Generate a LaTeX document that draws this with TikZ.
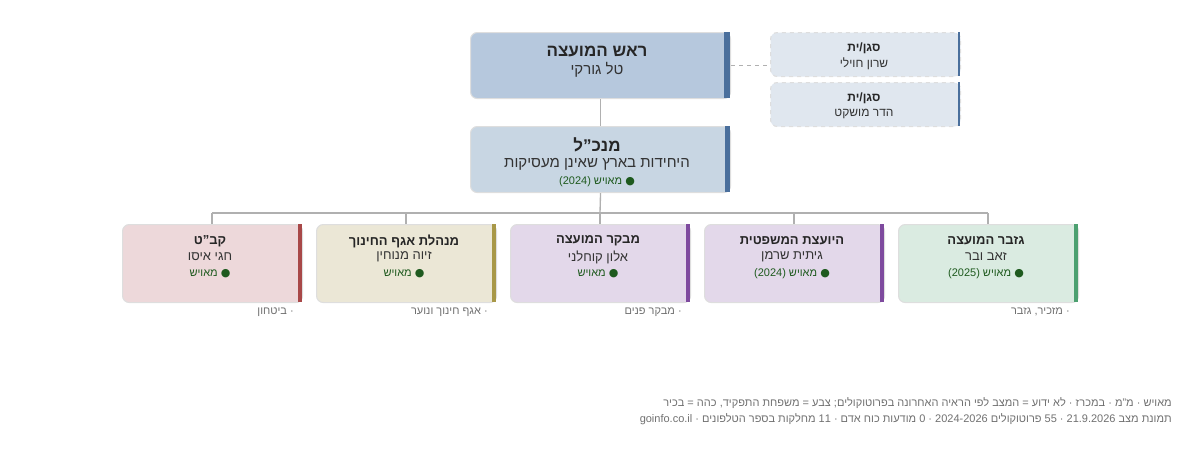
\documentclass[tikz,border=0pt]{standalone}
\usepackage{fontspec}
\setmainfont[Script=Hebrew]{Liberation Sans}
\newfontfamily\dv{DejaVu Sans}
\TeXXeTstate=1
\newcommand{\RR}[1]{\beginR #1\endR}
\newcommand{\LL}[1]{\beginL #1\endL}
\newcommand{\qq}{\symbol{"22}}
\definecolor{gline}{HTML}{B0B0B0}
\definecolor{stat}{HTML}{1E5A1E}
\definecolor{ftxt}{HTML}{707070}
\definecolor{headf}{HTML}{B6C8DD}
\definecolor{mgrf}{HTML}{C8D6E3}
\definecolor{depf}{HTML}{E0E7EF}
\definecolor{blbar}{HTML}{4A6F9C}
\begin{document}
\begin{tikzpicture}[x=0.75pt,y=-0.75pt,
  box/.style={rounded corners=5pt,draw=black!13,line width=0.8pt},
  ttl/.style={font=\fontsize{9.75}{11}\selectfont\bfseries,text=black!85,inner sep=0},
  nm/.style={font=\fontsize{9.75}{11}\selectfont,text=black!80,inner sep=0},
  st/.style={font=\fontsize{8.25}{10}\selectfont,text=stat,inner sep=0},
  lbl/.style={font=\fontsize{8.25}{10}\selectfont,text=ftxt,inner sep=0,anchor=east},
  conn/.style={draw=gline,line width=1pt}]
\useasboundingbox (0,0) rectangle (1200,454);
% head
\node[box,fill=headf,minimum width=260*0.75pt,minimum height=66*0.75pt,anchor=north west] (head) at (470,32) {};
\fill[blbar] (724,32) rectangle (730,98);
\node[ttl,font=\fontsize{12.75}{14}\selectfont\bfseries] (headt) at (597,52) {\RR{ראש המועצה}};
\node[nm,font=\fontsize{11.25}{13}\selectfont] (headn) at (597,70) {\RR{טל גורקי}};
% deputies
\node[box,dashed,fill=depf,minimum width=190*0.75pt,minimum height=44*0.75pt,anchor=north west] (dep1) at (770,32) {};
\fill[blbar] (958,32) rectangle (960,76);
\node[ttl,font=\fontsize{9}{11}\selectfont\bfseries] (d1t) at (864,48) {\RR{סגן/ית}};
\node[nm,font=\fontsize{9}{11}\selectfont] (d1n) at (864,64) {\RR{שרון חוילי}};
\node[box,dashed,fill=depf,minimum width=190*0.75pt,minimum height=44*0.75pt,anchor=north west] (dep2) at (770,82) {};
\fill[blbar] (958,82) rectangle (960,126);
\node[ttl,font=\fontsize{9}{11}\selectfont\bfseries] (d2t) at (864,98) {\RR{סגן/ית}};
\node[nm,font=\fontsize{9}{11}\selectfont] (d2n) at (864,114) {\RR{הדר מושקט}};
\draw[draw=gline,dashed,line width=1pt] (head.east) -- (head.east -| dep1.west);
% manager
\node[box,fill=mgrf,minimum width=260*0.75pt,minimum height=66*0.75pt,anchor=north west] (mgr) at (470,126) {};
\fill[blbar] (725,126) rectangle (730,192);
\node[ttl,font=\fontsize{12.75}{14}\selectfont\bfseries] (mgrt) at (597,145) {\RR{מנכ\qq ל}};
\node[nm,font=\fontsize{11.25}{13}\selectfont] (mgrn) at (597,164) {\RR{היחידות בארץ שאינן מעסיקות}};
\node[st] (mgrs) at (597,182) {(2024) \RR{מאויש} {\dv●}};
\draw[conn] (head.south) -- (mgr.north);
\coordinate (bus) at (600,213);
\draw[conn] (mgr.south) -- (bus);
\draw[conn] (212,213) -- (988,213);
% children
\foreach \n/\x/\fc/\bc/\t/\nmv/\s/\l in {
 c1/122/EDD8DA/A84848/{קב\qq ט}/{חגי איסו}/{\RR{מאויש} {\dv●}}/{· ביטחון},
 c2/316/EBE7D6/A89848/{מנהלת אגף החינוך}/{זיוה מנוחין}/{\RR{מאויש} {\dv●}}/{· אגף חינוך ונוער},
 c3/510/E3D8EA/7E4A9E/{מבקר המועצה}/{אלון קוחלני}/{\RR{מאויש} {\dv●}}/{· מבקר פנים},
 c4/704/E3D8EA/7E4A9E/{היועצת המשפטית}/{גיתית שרמן}/{(2024) \RR{מאויש} {\dv●}}/{},
 c5/898/DAEBE1/4CA070/{גזבר המועצה}/{זאב ובר}/{(2025) \RR{מאויש} {\dv●}}/{· מזכיר, גזבר}} {
  \definecolor{fc}{HTML}{\fc}\definecolor{bc}{HTML}{\bc}
  \node[box,fill=fc,minimum width=180*0.75pt,minimum height=78*0.75pt,anchor=north west] (\n) at (\x,224) {};
  \fill[bc] (\x+176,224) rectangle (\x+180,302);
  \node[ttl] (\n t) at (\x+88,241) {\RR{\t}};
  \node[nm] (\n n) at (\x+88,257) {\RR{\nmv}};
  \node[st] (\n s) at (\x+88,274) {\s};
  \node[lbl] (\n l) at (\x+172,312) {\RR{\l}};
  \draw[conn] (\x+90,213) -- (\x+90,224);
}
% footer
\node[lbl,anchor=east] (f1) at (1172,403) {\RR{מאויש · מ\qq מ · במכרז · לא ידוע = המצב לפי הראיה האחרונה בפרוטוקולים; צבע = משפחת התפקיד, כהה = בכיר}};
\node[lbl,anchor=east] (f2) at (1172,419) {\RR{תמונת מצב \LL{21.9.2026} · \LL{55} פרוטוקולים \LL{2024-2026} · \LL{0} מודעות כוח אדם · \LL{11} מחלקות בספר הטלפונים · \LL{goinfo.co.il}}};
\end{tikzpicture}
\end{document}
